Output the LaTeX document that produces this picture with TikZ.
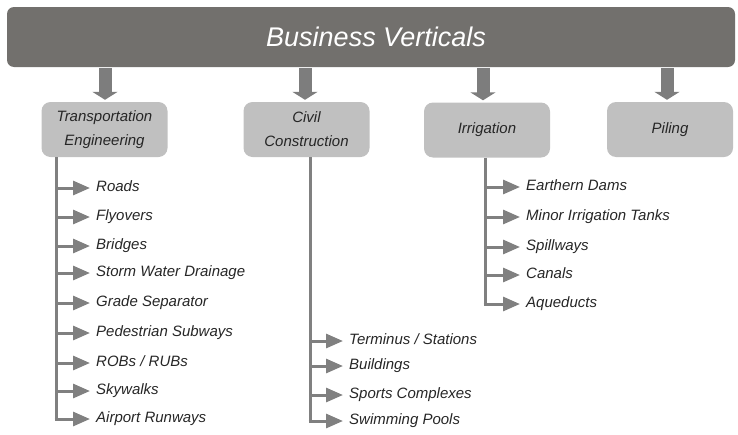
\documentclass[tikz,border=0pt]{standalone}
\usepackage{fontspec}
\setmainfont{Liberation Sans}
\usetikzlibrary{arrows.meta}
\definecolor{bannercol}{HTML}{72706D}
\definecolor{boxfill}{HTML}{C0C0C0}
\definecolor{conn}{HTML}{808080}
\definecolor{fatcol}{HTML}{7D7D7D}
\definecolor{txt}{HTML}{262626}
\tikzset{
  bannerbox/.style={fill=bannercol, rounded corners=7pt, minimum width=728pt, minimum height=60pt,
    inner sep=0pt, text=white, font=\fontsize{27}{30}\selectfont\itshape},
  catbox/.style={fill=boxfill, rounded corners=9pt, minimum width=126pt, minimum height=55pt,
    inner sep=0pt, align=center, text=txt, font=\fontsize{15}{24}\selectfont\itshape},
  itemtext/.style={anchor=west, inner xsep=6pt, inner ysep=0pt, text height=8pt, text depth=2pt,
    font=\fontsize{15}{18}\selectfont\itshape, text=txt},
  fatarrow/.style={draw=fatcol, line width=13pt, -{Triangle[length=8pt,width=25pt]}},
  branch/.style={draw=conn, line width=3pt, -{Triangle[length=17pt,width=14pt]}},
  trunk/.style={draw=conn, line width=3pt}
}
\begin{document}
\begin{tikzpicture}[x=1pt,y=-1pt]
\useasboundingbox (0,0) rectangle (738,434);
% banner
\node[bannerbox] (bv) at (371,37) {\hspace*{10pt}Business Verticals};
% categories
\node[catbox] (tr) at (104.5,129.5) {Transportation\\Engineering};
\node[catbox] (cc) at (306.5,129.5) {Civil\\Construction};
\node[catbox] (ir) at (487,130) {Irrigation};
\node[catbox] (pl) at (670,129.5) {Piling};
% fat arrows
\coordinate (fa1) at (105,68);
\coordinate (fa2) at (305,68);
\coordinate (fa3) at (483,68);
\coordinate (fa4) at (667,68);
\draw[fatarrow] (fa1) -- ([yshift=2pt]fa1 |- tr.north);
\draw[fatarrow] (fa2) -- ([yshift=2pt]fa2 |- cc.north);
\draw[fatarrow] (fa3) -- ([yshift=2pt]fa3 |- ir.north);
\draw[fatarrow] (fa4) -- ([yshift=2pt]fa4 |- pl.north);
% trunks
\coordinate (t1) at (56,150);
\coordinate (t2) at (310,150);
\coordinate (t3) at (485,150);
% transportation items
\node[itemtext] (a1) at (90,188) {Roads};
\node[itemtext] (a2) at (90,217) {Flyovers};
\node[itemtext] (a3) at (90,246) {Bridges};
\node[itemtext] (a4) at (90,273) {Storm Water Drainage};
\node[itemtext] (a5) at (90,303) {Grade Separator};
\node[itemtext] (a6) at (90,333) {Pedestrian Subways};
\node[itemtext] (a7) at (90,363) {ROBs / RUBs};
\node[itemtext] (a8) at (90,391) {Skywalks};
\node[itemtext] (a9) at (90,419) {Airport Runways};
% civil items
\node[itemtext] (b1) at (343,341) {Terminus / Stations};
\node[itemtext] (b2) at (343,366) {Buildings};
\node[itemtext] (b3) at (343,395) {Sports Complexes};
\node[itemtext] (b4) at (343,421) {Swimming Pools};
% irrigation items
\node[itemtext] (c1) at (520,187) {Earthern Dams};
\node[itemtext] (c2) at (520,217) {Minor Irrigation Tanks};
\node[itemtext] (c3) at (520,247) {Spillways};
\node[itemtext] (c4) at (520,275) {Canals};
\node[itemtext] (c5) at (520,304) {Aqueducts};
% connectors
\draw[trunk] (t1 |- tr.south) -- (t1 |- a9.west);
\foreach \i in {1,...,8}{\draw[branch] (t1 |- a\i.west) -- (a\i.west);}
\draw[branch] ([xshift=-1.5pt]t1 |- a9.west) -- (a9.west);
\draw[trunk] (t2 |- cc.south) -- (t2 |- b4.west);
\foreach \i in {1,...,3}{\draw[branch] (t2 |- b\i.west) -- (b\i.west);}
\draw[branch] ([xshift=-1.5pt]t2 |- b4.west) -- (b4.west);
\draw[trunk] (t3 |- ir.south) -- (t3 |- c5.west);
\foreach \i in {1,...,4}{\draw[branch] (t3 |- c\i.west) -- (c\i.west);}
\draw[branch] ([xshift=-1.5pt]t3 |- c5.west) -- (c5.west);
\end{tikzpicture}
\end{document}
